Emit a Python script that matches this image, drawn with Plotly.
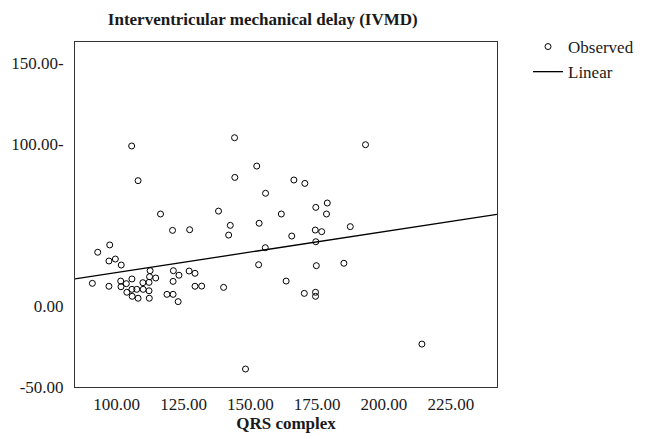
import plotly.graph_objects as go

qrs = [105.6, 144.1, 152.4, 108.0, 144.2, 155.7, 116.4, 138.1, 161.6, 193.1,
       166.3, 170.4, 178.8, 174.5, 178.5, 153.3, 142.5, 141.9, 120.9, 127.3,
       165.5, 97.4, 92.9, 155.6, 97.1, 99.5, 101.7, 153.1, 112.5, 121.2,
       127.1, 129.3, 123.3, 112.3, 114.6, 105.7, 101.5, 121.1, 109.8, 112.1,
       163.4, 103.6, 90.9, 97.1, 101.6, 129.3, 131.8, 140.0, 105.7, 107.5,
       109.9, 112.1, 103.8, 105.8, 108.0, 112.2, 118.8, 121.1, 123.0, 148.2,
       174.3, 176.7, 187.4, 174.5, 174.7, 185.0, 170.2, 174.4, 174.4, 214.2]
ivmd = [98.8, 103.9, 86.4, 77.4, 79.4, 69.6, 56.8, 58.6, 56.8, 99.6,
        77.8, 75.7, 63.6, 60.9, 56.8, 51.1, 49.8, 43.8, 46.7, 47.1,
        43.2, 37.7, 33.2, 36.0, 27.8, 29.0, 25.3, 25.5, 21.8, 21.8,
        21.6, 20.2, 19.0, 18.1, 17.3, 16.7, 15.4, 15.2, 14.4, 14.6,
        15.4, 13.8, 14.0, 12.2, 11.9, 12.2, 12.3, 11.5, 10.3, 10.3,
        10.3, 9.4, 8.5, 6.0, 4.8, 4.8, 7.2, 7.2, 2.7, -38.9,
        46.9, 45.9, 49.0, 39.7, 24.9, 26.4, 7.8, 8.5, 6.0, -23.5]

# Linear fit coefficients
fit_intercept = -4.6
fit_slope = 0.2527

x_ticks = [100, 125, 150, 175, 200, 225]
y_ticks = [150, 100, 0, -50]
y_tick_labels = ["150.00-", "100.00-", "0.00", "-50.00"]

x_range = [84.4, 242.3]
y_range = [-50, 163]

fit_x = x_range
fit_y = [fit_intercept + fit_slope * v for v in fit_x]

FONT = "Liberation Serif, Times New Roman, serif"
TXT = "#1a1a1a"

fig = go.Figure()
fig.add_trace(go.Scatter(
    x=qrs, y=ivmd, mode="markers", name="Observed",
    marker=dict(symbol="circle-open", size=6, color="black",
                line=dict(width=1, color="black")),
    cliponaxis=False,
))
fig.add_trace(go.Scatter(
    x=fit_x, y=fit_y, mode="lines", name="Linear",
    line=dict(color="black", width=1.3),
))

fig.update_layout(
    width=646, height=439,
    margin=dict(l=75, r=149, t=42, b=52, autoexpand=False),
    paper_bgcolor="white", plot_bgcolor="white",
    font=dict(family=FONT, size=17, color=TXT),
    title=dict(text="<b>Interventricular mechanical delay (IVMD)</b>",
               x=0.445, xref="paper", xanchor="center",
               y=1 - 19 / 439, yref="container", yanchor="middle",
               font=dict(family=FONT, size=17, color=TXT)),
    showlegend=True,
    legend=dict(xref="container", x=528 / 646, xanchor="left",
                yref="container", y=1 - 29 / 439, yanchor="top",
                font=dict(family=FONT, size=17, color=TXT),
                bgcolor="rgba(0,0,0,0)", tracegroupgap=0,
                itemwidth=30),
)
fig.update_xaxes(
    range=x_range, tickvals=x_ticks, tickformat=".2f",
    showgrid=False, zeroline=False, automargin=False,
    showline=True, mirror=True, linecolor="#333333", linewidth=1,
    ticks="", ticklabelstandoff=2,
    title=dict(text="<b>QRS complex</b>", standoff=2,
               font=dict(family=FONT, size=17, color=TXT)),
)
fig.update_yaxes(
    range=y_range, tickvals=y_ticks, ticktext=y_tick_labels,
    showgrid=False, zeroline=False, automargin=False,
    showline=True, mirror=True, linecolor="#333333", linewidth=1,
    ticks="", ticklabelstandoff=7,
)

fig.write_html(
    "out.html",
    config={"displayModeBar": False},
    post_script="document.body.style.margin='0';document.body.style.overflow='hidden';",
)
